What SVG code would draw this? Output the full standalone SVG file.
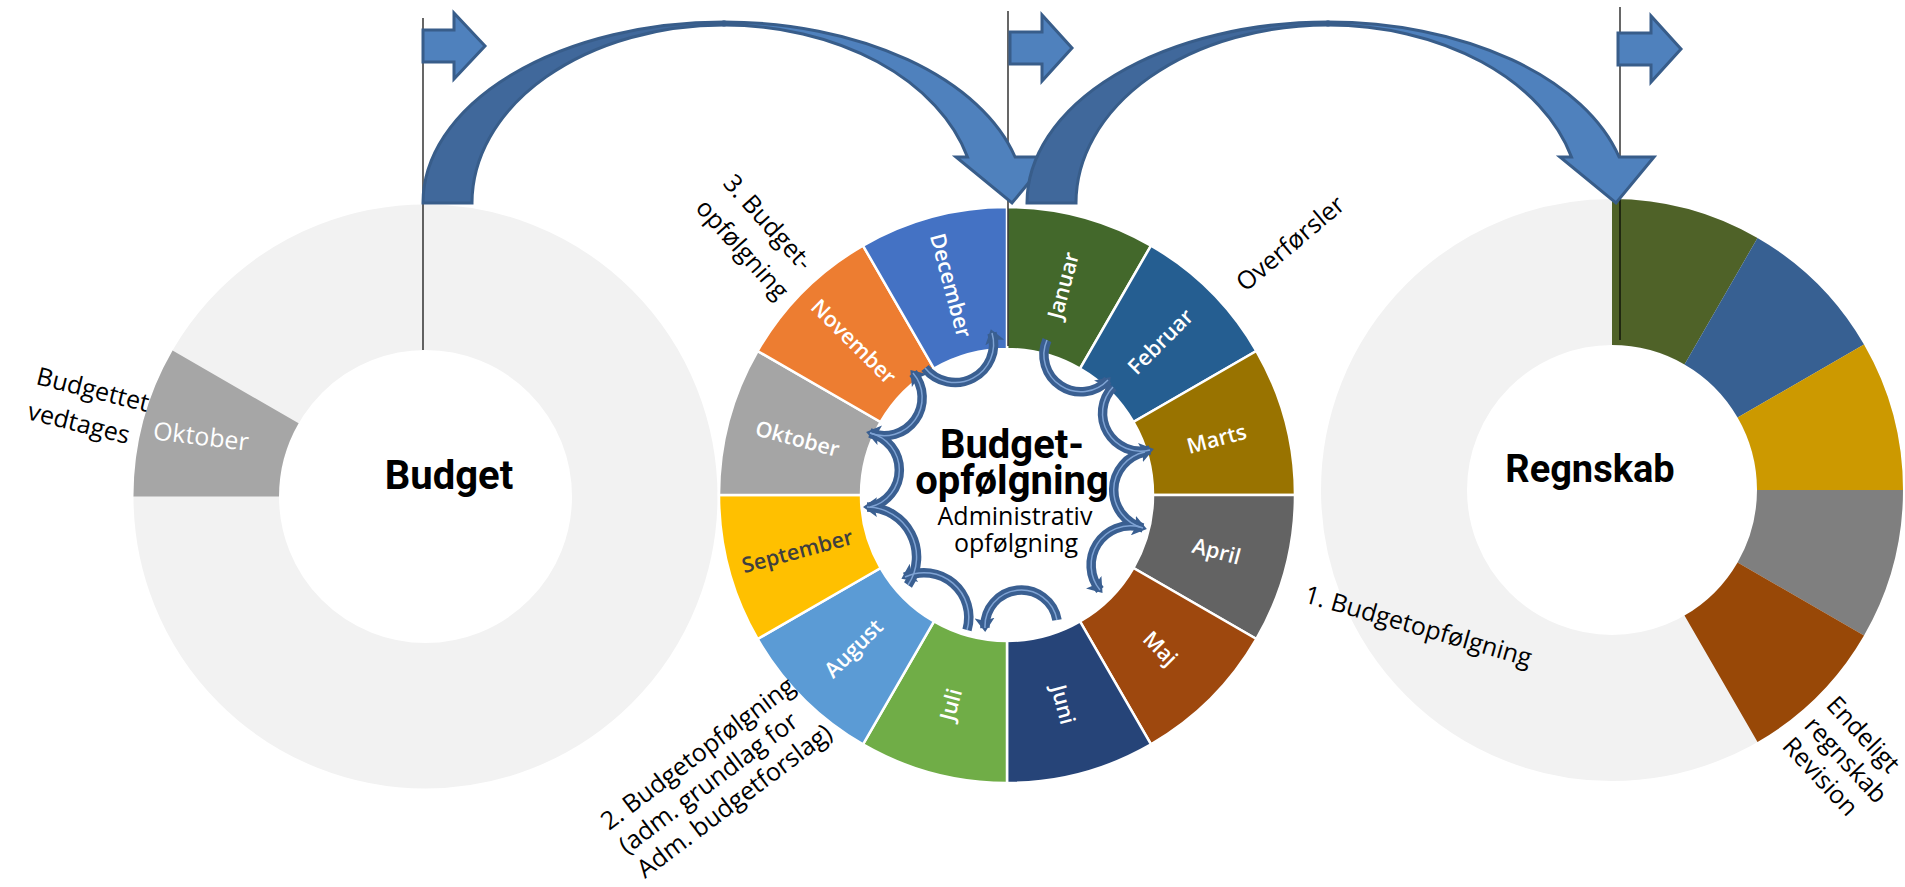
<svg xmlns="http://www.w3.org/2000/svg" width="1905" height="887" viewBox="0 0 1905 887">
<defs>
<style>
.lbl{font-family:"Open Sans","Liberation Sans",sans-serif;font-size:25px;fill:#000}
.wlbl{font-family:"Open Sans","Liberation Sans",sans-serif;font-size:25px;fill:#fff;text-anchor:middle}
.ttl{font-family:Roboto,"Liberation Sans",sans-serif;font-weight:700;fill:#000;text-anchor:middle}
.mon{font-family:"Open Sans","Liberation Sans",sans-serif;font-size:21.5px;font-weight:600;fill:#fff;text-anchor:middle}
.seg{stroke:#fff;stroke-width:2.5}
.vline{stroke:#000;stroke-width:1.2}
.big{stroke:#385D8A;stroke-width:3;stroke-linejoin:miter}
.dark{fill:#40689B}
.light{fill:#4F81BD}
.arc{fill:none;stroke:#3A5F91;stroke-width:9.5}
.hl{fill:none;stroke:#7FA3D4;stroke-width:1.5}
</style>
<marker id="ah" viewBox="0 0 14 20" refX="10" refY="10" markerWidth="14" markerHeight="20" markerUnits="userSpaceOnUse" orient="auto"><path d="M0,0 L14,10 L0,20 L3,10 Z" fill="#3A5F91"/></marker>
</defs>
<rect width="1905" height="887" fill="#fff"/>

<g id="budget">
<circle cx="425.5" cy="496.5" r="219.25" fill="none" stroke="#F2F2F2" stroke-width="145.5"/>
<path d="M133.5,496.5 A292,292 0 0 1 172.6,350.5 L298.6,423.25 A146.5,146.5 0 0 0 279,496.5 Z" fill="#A6A6A6"/>
<text class="wlbl" transform="translate(200,445) rotate(7)">Oktober</text>
<text class="ttl" font-size="40" x="449" y="489">Budget</text>
<text class="lbl" transform="translate(35,384) rotate(14)"><tspan x="0" y="0">Budgettet</tspan><tspan x="0" y="36">vedtages</tspan></text>
</g>

<g id="regnskab">
<circle cx="1612" cy="490" r="218" fill="none" stroke="#F2F2F2" stroke-width="146"/>
<path d="M1612,199 A291,291 0 0 1 1757.5,238 L1684.5,364.4 A145,145 0 0 0 1612,345 Z" fill="#4F6228"/>
<path d="M1757.5,238 A291,291 0 0 1 1864,344.5 L1737.6,417.5 A145,145 0 0 0 1684.5,364.4 Z" fill="#376092"/>
<path d="M1864,344.5 A291,291 0 0 1 1903,490 L1757,490 A145,145 0 0 0 1737.6,417.5 Z" fill="#CC9900"/>
<path d="M1903,490 A291,291 0 0 1 1864,635.5 L1737.6,562.5 A145,145 0 0 0 1757,490 Z" fill="#7F7F7F"/>
<path d="M1864,635.5 A291,291 0 0 1 1757.5,742 L1684.5,615.6 A145,145 0 0 0 1737.6,562.5 Z" fill="#984807"/>
<text class="ttl" font-size="38" x="1590" y="482">Regnskab</text>
</g>

<g id="budgetopfoelgning">
<path class="seg" fill="#43682B" d="M1007,207 A288,288 0 0 1 1151,245.6 L1080,368.6 A146,146 0 0 0 1007,349 Z"/>
<path class="seg" fill="#255E91" d="M1151,245.6 A288,288 0 0 1 1256.4,351 L1133.4,422 A146,146 0 0 0 1080,368.6 Z"/>
<path class="seg" fill="#997300" d="M1256.4,351 A288,288 0 0 1 1295,495 L1153,495 A146,146 0 0 0 1133.4,422 Z"/>
<path class="seg" fill="#636363" d="M1295,495 A288,288 0 0 1 1256.4,639 L1133.4,568 A146,146 0 0 0 1153,495 Z"/>
<path class="seg" fill="#9E480E" d="M1256.4,639 A288,288 0 0 1 1151,744.4 L1080,621.4 A146,146 0 0 0 1133.4,568 Z"/>
<path class="seg" fill="#264478" d="M1151,744.4 A288,288 0 0 1 1007,783 L1007,641 A146,146 0 0 0 1080,621.4 Z"/>
<path class="seg" fill="#70AD47" d="M1007,783 A288,288 0 0 1 863,744.4 L934,621.4 A146,146 0 0 0 1007,641 Z"/>
<path class="seg" fill="#5B9BD5" d="M863,744.4 A288,288 0 0 1 757.6,639 L880.6,568 A146,146 0 0 0 934,621.4 Z"/>
<path class="seg" fill="#FFC000" d="M757.6,639 A288,288 0 0 1 719,495 L861,495 A146,146 0 0 0 880.6,568 Z"/>
<path class="seg" fill="#A5A5A5" d="M719,495 A288,288 0 0 1 757.6,351 L880.6,422 A146,146 0 0 0 861,495 Z"/>
<path class="seg" fill="#ED7D31" d="M757.6,351 A288,288 0 0 1 863,245.6 L934,368.6 A146,146 0 0 0 880.6,422 Z"/>
<path class="seg" fill="#4472C4" d="M863,245.6 A288,288 0 0 1 1007,207 L1007,349 A146,146 0 0 0 934,368.6 Z"/>
<text class="mon" dy=".35em" transform="translate(1063.2,285.4) rotate(-75)">Januar</text>
<text class="mon" dy=".35em" transform="translate(1160.4,341.6) rotate(-45)">Februar</text>
<text class="mon" dy=".35em" transform="translate(1216.6,438.8) rotate(-15)">Marts</text>
<text class="mon" dy=".35em" transform="translate(1216.6,551.2) rotate(15)">April</text>
<text class="mon" dy=".35em" transform="translate(1160.4,648.4) rotate(45)">Maj</text>
<text class="mon" dy=".35em" transform="translate(1063.2,704.6) rotate(75)">Juni</text>
<text class="mon" dy=".35em" transform="translate(950.8,704.6) rotate(-75)">Juli</text>
<text class="mon" dy=".35em" transform="translate(853.6,648.4) rotate(-45)">August</text>
<text class="mon" dy=".35em" style="fill:#3F3F3F" transform="translate(797.4,551.2) rotate(-15)">September</text>
<text class="mon" dy=".35em" transform="translate(797.4,438.8) rotate(15)">Oktober</text>
<text class="mon" dy=".35em" transform="translate(853.6,341.6) rotate(45)">November</text>
<text class="mon" dy=".35em" transform="translate(950.8,285.4) rotate(75)">December</text>
</g>

<g id="connectors">
<line class="vline" x1="423" y1="18" x2="423" y2="350"/>
<line class="vline" x1="1008" y1="11" x2="1008" y2="346"/>
<line class="vline" x1="1620" y1="7" x2="1620" y2="340"/>

<polygon class="big light" points="423,30 454,30 454,13 485,46 454,79 454,62 423,62"/>
<polygon class="big light" points="1010,32 1042,32 1042,15 1072,48 1042,81 1042,64 1010,64"/>
<polygon class="big light" points="1618,33 1651,33 1651,16 1681,49 1651,82 1651,65 1618,65"/>

<g id="arrow-budget-opfoelgning" transform="translate(-604,0)">
<path class="big dark" d="M1027,203 A301,181 0 0 1 1328,22 L1328,25 A252,178 0 0 0 1076,203 Z"/>
<path class="big light" d="M1328,22 A301,181 0 0 1 1619.1,157 L1654,157 L1616,203 L1560,157 L1571.5,157 A252,178 0 0 0 1328,25 Z"/>
</g>
<g id="arrow-opfoelgning-regnskab">
<path class="big dark" d="M1027,203 A301,181 0 0 1 1328,22 L1328,25 A252,178 0 0 0 1076,203 Z"/>
<path class="big light" d="M1328,22 A301,181 0 0 1 1619.1,157 L1654,157 L1616,203 L1560,157 L1571.5,157 A252,178 0 0 0 1328,25 Z"/>
</g>

<g id="cycle-arrows">
<path class="arc" marker-end="url(#ah)" d="M870,433 A38,38 0 0 0 913,373"/>
<path class="arc" marker-end="url(#ah)" d="M925,368 A38.5,38.5 0 0 0 992,333"/>
<path class="arc" marker-end="url(#ah)" d="M1047,340 A37,37 0 0 0 1108,380"/>
<path class="arc" marker-end="url(#ah)" d="M1113,387 A38,38 0 0 0 1150,450"/>
<path class="arc" marker-end="url(#ah)" d="M1145,452 A39,39 0 0 0 1143,528"/>
<path class="arc" marker-end="url(#ah)" d="M1140,527 A39.3,39.3 0 0 0 1100,590"/>
<path class="arc" marker-end="url(#ah)" d="M1057,620 A36.3,36.3 0 0 0 985,628"/>
<path class="arc" marker-end="url(#ah)" d="M967,630 A44.7,44.7 0 0 0 905,577"/>
<path class="arc" marker-end="url(#ah)" d="M908,585 A50,50 0 0 0 867,507"/>
<path class="arc" marker-end="url(#ah)" d="M870,507 A38,38 0 0 0 870,433"/>
<path class="hl" d="M870,433 A38,38 0 0 0 913,373"/>
<path class="hl" d="M925,368 A38.5,38.5 0 0 0 992,333"/>
<path class="hl" d="M1047,340 A37,37 0 0 0 1108,380"/>
<path class="hl" d="M1113,387 A38,38 0 0 0 1150,450"/>
<path class="hl" d="M1145,452 A39,39 0 0 0 1143,528"/>
<path class="hl" d="M1140,527 A39.3,39.3 0 0 0 1100,590"/>
<path class="hl" d="M1057,620 A36.3,36.3 0 0 0 985,628"/>
<path class="hl" d="M967,630 A44.7,44.7 0 0 0 905,577"/>
<path class="hl" d="M908,585 A50,50 0 0 0 867,507"/>
<path class="hl" d="M870,507 A38,38 0 0 0 870,433"/>
</g>
</g>

<g id="center-text">
<text class="ttl" font-size="40" x="1012" y="458">Budget-</text>
<text class="ttl" font-size="40" x="1012" y="494">opfølgning</text>
<text class="lbl" text-anchor="middle" x="1015" y="525">Administrativ</text>
<text class="lbl" text-anchor="middle" x="1016" y="552">opfølgning</text>
</g>

<g id="labels">
<text class="lbl" transform="translate(722,184) rotate(48)"><tspan x="0" y="0">3. Budget-</tspan><tspan x="0" y="37">opfølgning</tspan></text>
<text class="lbl" text-anchor="middle" transform="translate(1296,250) rotate(-40)">Overførsler</text>
<text class="lbl" transform="translate(1303,602) rotate(16)">1. Budgetopfølgning</text>
<text class="lbl" transform="translate(609,831) rotate(-37)"><tspan x="0" y="0">2. Budgetopfølgning</tspan><tspan x="0" y="30">(adm. grundlag for</tspan><tspan x="0" y="60">Adm. budgetforslag)</tspan></text>
<text class="lbl" transform="translate(1825,706) rotate(47)"><tspan x="0" y="0">Endeligt</tspan><tspan x="0" y="30">regnskab</tspan><tspan x="0" y="60">Revision</tspan></text>
</g>
</svg>
